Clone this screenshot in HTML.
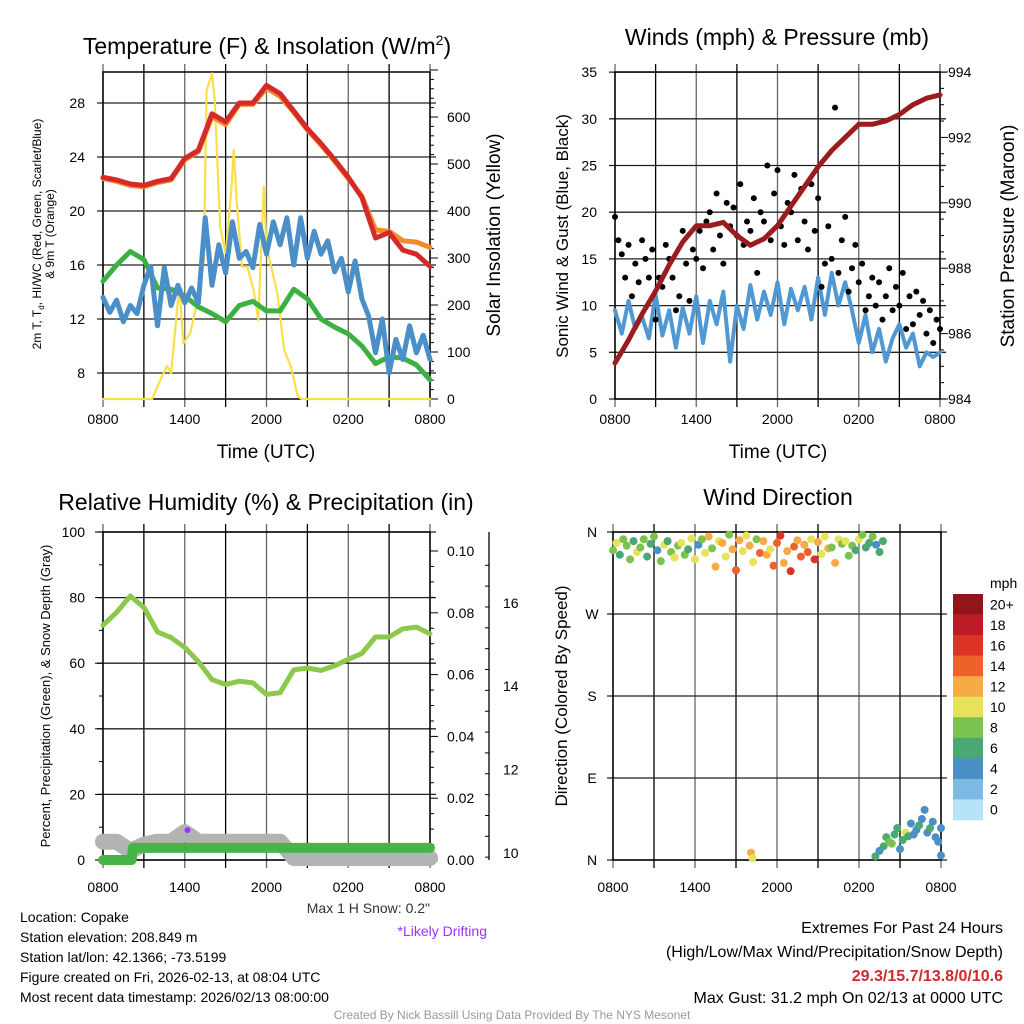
<!DOCTYPE html>
<html><head><meta charset="utf-8"><style>
html,body{margin:0;padding:0;background:#fff;}
svg{display:block;font-family:"Liberation Sans",Arial,sans-serif;}
</style></head><body>
<svg id="chart" width="1024" height="1024" viewBox="0 0 1024 1024" xmlns="http://www.w3.org/2000/svg">
<rect width="1024" height="1024" fill="#fff"/>
<g id="p1"></g>
<g id="p2"></g>
<g id="p3"></g>
<g id="p4"></g>

<text x="267" y="54" font-size="23" text-anchor="middle">Temperature (F) &amp; Insolation (W/m<tspan font-size="14" dy="-9">2</tspan><tspan dy="9">)</tspan></text>
<text transform="translate(41,234) rotate(-90)" font-size="12" text-anchor="middle"><tspan x="0" dy="0">2m T, T<tspan font-size="8" dy="3">d</tspan><tspan dy="-3">, HI/WC (Red, Green, Scarlet/Blue)</tspan></tspan><tspan x="0" dy="13">&amp; 9m T (Orange)</tspan></text>
<text transform="translate(500,235) rotate(-90)" font-size="19" text-anchor="middle">Solar Insolation (Yellow)</text>
<text x="266" y="458" font-size="19" text-anchor="middle">Time (UTC)</text>

<text x="777" y="45" font-size="23" text-anchor="middle">Winds (mph) &amp; Pressure (mb)</text>
<text transform="translate(568,236) rotate(-90)" font-size="17" text-anchor="middle">Sonic Wind &amp; Gust (Blue, Black)</text>
<text transform="translate(1014,236) rotate(-90)" font-size="19" text-anchor="middle">Station Pressure (Maroon)</text>
<text x="778" y="458" font-size="19" text-anchor="middle">Time (UTC)</text>

<text x="266" y="510" font-size="23" text-anchor="middle">Relative Humidity (%) &amp; Precipitation (in)</text>
<text transform="translate(50,696) rotate(-90)" font-size="13" text-anchor="middle">Percent, Precipitation (Green), &amp; Snow Depth (Gray)</text>

<text x="778" y="505" font-size="23" text-anchor="middle">Wind Direction</text>
<text transform="translate(567,696) rotate(-90)" font-size="17" text-anchor="middle">Direction (Colored By Speed)</text>
<text x="990" y="588" font-size="14">mph</text>

<text x="430" y="913" font-size="14" text-anchor="end" fill="#333">Max 1 H Snow: 0.2"</text>
<text x="487" y="936" font-size="14" text-anchor="end" fill="#9b30ff">*Likely Drifting</text>

<g font-size="14">
<text x="20" y="922">Location: Copake</text>
<text x="20" y="942">Station elevation: 208.849 m</text>
<text x="20" y="962">Station lat/lon: 42.1366; -73.5199</text>
<text x="20" y="982">Figure created on Fri, 2026-02-13, at 08:04 UTC</text>
<text x="20" y="1002">Most recent data timestamp: 2026/02/13 08:00:00</text>
</g>
<g font-size="16" text-anchor="end">
<text x="1003" y="933">Extremes For Past 24 Hours</text>
<text x="1003" y="957">(High/Low/Max Wind/Precipitation/Snow Depth)</text>
<text x="1003" y="981" font-weight="bold" fill="#d02a2e">29.3/15.7/13.8/0/10.6</text>
<text x="1003" y="1003">Max Gust: 31.2 mph On 02/13 at 0000 UTC</text>
</g>
<text x="512" y="1019" font-size="12" text-anchor="middle" fill="#999">Created By Nick Bassill Using Data Provided By The NYS Mesonet</text>
</svg>
<script>
// ---------- data ----------
const xTickLabels = ["0800","1400","2000","0200","0800"];
const hourT = [0,1,2,3,4,5,6,7,8,9,10,11,12,13,14,15,16,17,18,19,20,21,22,23,24];
const tempRed = [22.5,22.3,22.0,21.9,22.2,22.4,23.9,24.5,27.2,26.6,28.0,28.0,29.3,28.7,27.4,26.1,25.0,23.8,22.5,21.0,18.0,18.4,17.1,16.8,15.9];
const tempOrange = [22.4,22.2,21.9,21.8,22.1,22.3,23.8,24.4,27.0,26.4,27.9,27.9,29.1,28.5,27.3,26.0,24.9,23.7,22.4,21.1,18.6,18.5,17.8,17.7,17.3];
const dewGreen = [14.8,16.0,17.0,16.4,14.3,14.2,13.7,12.9,12.4,11.8,13.0,13.3,12.6,12.6,14.2,13.5,12.0,11.4,10.9,10.0,8.7,9.2,9.1,8.6,7.5];
const halfT = [0,0.5,1,1.5,2,2.5,3,3.5,4,4.5,5,5.5,6,6.5,7,7.5,8,8.5,9,9.5,10,10.5,11,11.5,12,12.5,13,13.5,14,14.5,15,15.5,16,16.5,17,17.5,18,18.5,19,19.5,20,20.5,21,21.5,22,22.5,23,23.5,24];
const chillBlue = [13.6,12.5,13.4,11.8,13.0,12.4,14.5,15.9,11.5,15.8,13.0,14.5,13.2,14.3,13.2,19.5,14.5,17.5,15.4,19.2,16.5,17.0,15.8,19.0,16.8,19.2,17.5,19.5,16.0,19.5,16.5,18.5,16.8,17.8,15.5,16.5,14.0,16.3,13.5,12.2,9.5,12.0,8.0,10.5,9.0,11.5,9.5,10.8,9.0];
const solarT = [0,3.6,4.2,4.7,5.0,5.6,5.9,6.4,6.9,7.4,7.6,8.0,8.2,8.6,9.0,9.4,9.6,9.8,10.2,10.6,11.1,11.4,11.8,12.0,12.8,13.3,13.8,14.3,14.6,24];
const solarW = [0,0,40,70,55,240,118,140,203,296,657,693,636,366,310,437,530,424,282,282,225,168,452,324,225,104,68,5,0,0];
const tempTicks = [8,12,16,20,24,28];
const solarTicks = [0,100,200,300,400,500,600];

const windBlue = [9.5,7.0,10.5,7.5,8.8,6.5,11.2,6.8,9.5,5.5,9.8,7.0,11.0,6.0,10.5,8.0,11.5,4.0,10.0,7.5,12.2,8.5,11.5,9.0,12.5,8.0,11.8,9.5,12.0,8.5,13.0,9.0,13.5,10.0,12.5,9.5,6.0,9.0,5.0,7.5,4.0,6.5,8.0,5.5,7.0,3.5,5.0,4.5,5.0];
const gustVals = [19.5,17,15.5,13, 16.5,11,14.5,12.5, 17,15,13,16, 8.5,13,12,16.5, 15,13,9.5,11, 18,14.5,10.5,16, 15,18,14,19, 20,16,22,17.5, 14.5,21,18.5,20.5, 17.5,23,16.5,19, 18,21.5,13.5,20, 19,25,17,22, 24.5,18.5,16.5,21, 20,24,17,22.5, 19,16,23,18, 21.5,12,14.5,18.5, 15,31.2,13.5,17, 19.5,11.5,14,16.5, 12.5,14.5,9.5,11, 13,10,12.5,8.5, 11,14,9.5,12, 10,13.5,7.5,11, 8,11.5,9,10.5, 7,9.5,6,8.5, 7.5];
const pressure = [985.1,985.8,986.6,987.3,988.1,988.8,989.3,989.3,989.4,989.0,988.7,988.9,989.3,989.9,990.5,991.1,991.6,992.0,992.4,992.4,992.5,992.7,993.0,993.2,993.3];
const windTicks = [0,5,10,15,20,25,30,35];
const presTicks = [984,986,988,990,992,994];

const rhVals = [71.6,75.5,80.5,77,69.5,67.8,64.8,60.5,55,53.5,54.5,54,50.5,51,58,58.5,57.8,59.2,61.2,63,68,68,70.5,71,69];
const snowDepth = [10.27,10.27,10.05,10.2,10.27,10.27,10.5,10.27,10.27,10.27,10.27,10.27,10.27,10.27,9.88,9.88,9.88,9.88,9.88,9.88,9.88,9.88,9.88,9.88,9.88];
const precipT = [0,2.1,2.2,24];
const precipVals = [0,0,0.0039,0.0039];
const rhTicks = [0,20,40,60,80,100];
const precTicks = [0,0.02,0.04,0.06,0.08,0.10];
const snowTicks = [10,12,14,16];

const dirT = [0,0.25,0.5,0.75,1,1.25,1.5,1.75,2,2.25,2.5,2.75,3,3.25,3.5,3.75,4,4.25,4.5,4.75,5,5.25,5.5,5.75,6,6.25,6.5,6.75,7,7.25,7.5,7.75,8,8.25,8.5,8.75,9,9.25,9.5,9.75,10,10.25,10.5,10.75,11,11.25,11.5,11.75,12,12.25,12.5,12.75,13,13.25,13.5,13.75,14,14.25,14.5,14.75,15,15.25,15.5,15.75,16,16.25,16.5,16.75,17,17.25,17.5,17.75,18,18.25,18.5,18.75,19,19.25,19.5,19.75,
 19.2,19.5,19.8,20,20.2,20.4,20.6,20.8,21,21.2,21.4,21.6,21.8,22,22.2,22.4,22.6,22.8,23,23.2,23.4,23.6,23.8,24,24, 10.1,10.2];
const dirDeg = [340,348,335,352, 345,330,350,338, 343,352,333,347, 355,340,328,346, 350,338,332,345, 348,335,341,353, 330,346,352,337, 355,342,322,350, 348,333,357,341, 318,351,339,356, 345,327,352,337, 350,335,341,323, 348,356,326,339, 317,344,351,333, 346,338,352,330, 349,336,355,342, 343,326,352,347, 350,334,345,340, 352,357,343,348, 355,346,338,350,
 4,10,15,25,20,18,28,35,12,22,30,26,40,28,33,38,45,55,30,35,42,25,20,5,35, 8,2];
const dirSpd = [7,9,6,8, 8,7,6,10, 7,8,6,5, 7,4,8,9, 6,8,10,7, 9,7,6,10, 10,4,8,9, 11,8,12,9, 12,10,8,12, 13,11,9,10, 12,10,8,13, 11,12,10,13, 14,15,12,11, 16,13,12,14, 12,13,10,15, 11,10,9,12, 8,12,9,8, 9,8,7,6, 10,8,6,5, 7,4,5,6,
 6,4,5,6,7,8,6,5,3,6,9,6,4,4,4,5,4,4,4,5,4,4,4,4,4, 12,10];
const dirLabels = ["N","W","S","E","N"];
const dirTickDeg = [360,270,180,90,0];
const cbLabels = ["20+","18","16","14","12","10","8","6","4","2","0"];
const cbColors = ["#91161c","#bb1c26","#dc3327","#ef612b","#f7aa45","#e6e25a","#7cc24e","#4aa873","#4a8fc6","#7cb9e3","#b6e3f7"];

// ---------- helpers ----------
const NS = "http://www.w3.org/2000/svg";
function mk(tag, parent){ const e=document.createElementNS(NS,tag); parent.appendChild(e); return e; }
function line(parent,x1,y1,x2,y2,stroke,w){ const e=mk("line",parent); e.setAttribute("x1",x1);e.setAttribute("y1",y1);e.setAttribute("x2",x2);e.setAttribute("y2",y2);e.setAttribute("stroke",stroke);e.setAttribute("stroke-width",w); return e; }
function txt(parent,x,y,s,anchor,size){ const e=mk("text",parent); e.setAttribute("x",x);e.setAttribute("y",y);e.setAttribute("text-anchor",anchor);e.setAttribute("font-size",size);e.textContent=s; return e; }
function poly(parent,xs,ys,fx,fy,stroke,w){ const e=mk("polyline",parent); let p=[]; for(let i=0;i<xs.length;i++) p.push(fx(xs[i]).toFixed(1)+","+fy(ys[i]).toFixed(1)); e.setAttribute("points",p.join(" ")); e.setAttribute("fill","none"); e.setAttribute("stroke",stroke); e.setAttribute("stroke-width",w); e.setAttribute("stroke-linejoin","round"); e.setAttribute("stroke-linecap","round"); return e; }

function frame(g,L,R,T,B,hLines){
  for(let i=0;i<=8;i++){ const x=L+(R-L)*i/8; const l=line(g,x,T-8,x,B+8,i%2?"#000":"#666",1.3);
    
     }
  hLines.forEach(y=>{ const l=line(g,L-6,y,R+6,y,"#222",1.3);
    
     });
  const b=mk("rect",g); b.setAttribute("x",L);b.setAttribute("y",T);b.setAttribute("width",R-L);b.setAttribute("height",B-T);b.setAttribute("fill","none");b.setAttribute("stroke","#000");b.setAttribute("stroke-width",1.5);
  
  
}
function xTicks(g,L,R,y){
  xTickLabels.forEach((s,i)=>{ const t=txt(g,L+(R-L)*i/4,y,s,"middle",14);
    
     });
}

// ---------- panel 1 ----------
(function(){
  const g=document.getElementById("p1");
  const L=103,R=430,T=72,B=399;
  const x=t=>L+t*(R-L)/24, yT=v=>373-(v-8)*13.5, yI=w=>399-w*0.47;
  frame(g,L,R,T,B,tempTicks.map(yT));
  tempTicks.forEach(v=>{ const t=txt(g,85,yT(v)+5,String(v),"end",14);
    
     });
  for(let w=0;w<=700;w+=20){ line(g,R,yI(w),R+(w%100?4:8),yI(w),"#000",1); }
  solarTicks.forEach(w=>{ const t=txt(g,447,yI(w)+5,String(w),"start",14);
    
     });
  xTicks(g,L,R,424);
  const yel=poly(g,solarT,solarW,x,yI,"#f9e04a",2.2);
  
  
  const gr=poly(g,hourT,dewGreen,x,yT,"#3cb043",5);
  
  
  const bl=poly(g,halfT,chillBlue,x,yT,"#4a8fc8",5);
  
  
  const or=poly(g,hourT,tempOrange,x,yT,"#f58a2a",5);
  
  
  const rd=poly(g,hourT,tempRed,x,yT,"#d42a2a",5);
  
  
})();

// ---------- panel 2 ----------
(function(){
  const g=document.getElementById("p2");
  const L=615,R=940,T=72,B=399;
  const x=t=>L+t*(R-L)/24, yW=v=>399-v*9.34, yP=p=>399-(p-984)*32.7;
  frame(g,L,R,T,B,windTicks.map(yW));
  windTicks.forEach(v=>{ const t=txt(g,597,yW(v)+5,String(v),"end",14);
    
     });
  for(let p=984;p<=994.01;p+=0.5){ line(g,R,yP(p),R+(Math.abs(p%2)<0.01?8:4),yP(p),"#000",1); }
  presTicks.forEach(p=>{ const t=txt(g,948,yP(p)+5,String(p),"start",14);
    
     });
  xTicks(g,L,R,424);
  const bl=poly(g,halfT,windBlue,x,yW,"#4f98d3",4);
  
  
  gustVals.forEach((v,i)=>{ const c=mk("circle",g); c.setAttribute("cx",x(i*0.25)); c.setAttribute("cy",yW(v)); c.setAttribute("r",3); c.setAttribute("fill","#000");
    
     });
  const pr=poly(g,hourT,pressure,x,yP,"#9b1b1e",5);
  
  
})();

// ---------- panel 3 ----------
(function(){
  const g=document.getElementById("p3");
  const L=103,R=430,T=532,B=860;
  const x=t=>L+t*(R-L)/24, yR=v=>860-v*3.28, yPr=v=>860-v*3090, yS=s=>853-(s-10)*41.7;
  frame(g,L,R,T,B,rhTicks.map(yR));
  for(let v=0;v<=100;v+=10) line(g,L-(v%20?4:8),yR(v),L,yR(v),"#000",1);
  rhTicks.forEach(v=>{ const t=txt(g,85,yR(v)+5,String(v),"end",14);
    
     });
  for(let v=0;v<=0.105;v+=0.005){ line(g,R,yPr(v),R+(Math.round(v*1000)%20?4:8),yPr(v),"#000",1); }
  precTicks.forEach(v=>{ const t=txt(g,447,yPr(v)+5,v.toFixed(2),"start",14);
    
     });
  const ax=line(g,489,532,489,860,"#000",1.3);
  
  
  for(let s=9.9;s<=17.1;s+=0.5){ line(g,489,yS(s),489-(Math.abs(s-Math.round(s))<0.01&&Math.round(s)%2===0?8:4),yS(s),"#000",1); }
  snowTicks.forEach(s=>{ const t=txt(g,503,yS(s)+5,String(s),"start",14);
    
     });
  xTicks(g,L,R,892);
  const sn=poly(g,hourT,snowDepth,x,yS,"#b3b3b3",16);
  
  
  const pc=poly(g,precipT,precipVals,x,yPr,"#46b446",10);
  
  
  const dr=mk("circle",g); dr.setAttribute("cx",x(6.2)); dr.setAttribute("cy",yS(10.55)); dr.setAttribute("r",3); dr.setAttribute("fill","#9b30ff");
  
  
  const rh=poly(g,hourT,rhVals,x,yR,"#8cc84b",5);
  
  
})();

// ---------- panel 4 ----------
(function(){
  const g=document.getElementById("p4");
  const L=613,R=941,T=532,B=860;
  const x=t=>L+t*(R-L)/24, yD=d=>860-d*328/360;
  frame(g,L,R,T,B,dirTickDeg.map(yD));
  dirLabels.forEach((s,i)=>{ const t=txt(g,592,yD(dirTickDeg[i])+5,s,"middle",14);
    
     });
  xTicks(g,L,R,892);
  dirDeg.forEach((d,i)=>{ const idx=Math.min(10,Math.round(dirSpd[i]/2)); const c=mk("circle",g);
    c.setAttribute("cx",x(dirT[i])); c.setAttribute("cy",yD(d)); c.setAttribute("r",4); c.setAttribute("fill",cbColors[10-idx]);
    
     });
  const h=(820-594)/11;
  cbColors.forEach((c,i)=>{ const r=mk("rect",g); r.setAttribute("x",953); r.setAttribute("y",594+i*h); r.setAttribute("width",30); r.setAttribute("height",h+0.3); r.setAttribute("fill",c);
    
    
    const t=txt(g,990,594+i*h+h/2+5,cbLabels[i],"start",14);
    
     });
})();
</script>
</body></html>
